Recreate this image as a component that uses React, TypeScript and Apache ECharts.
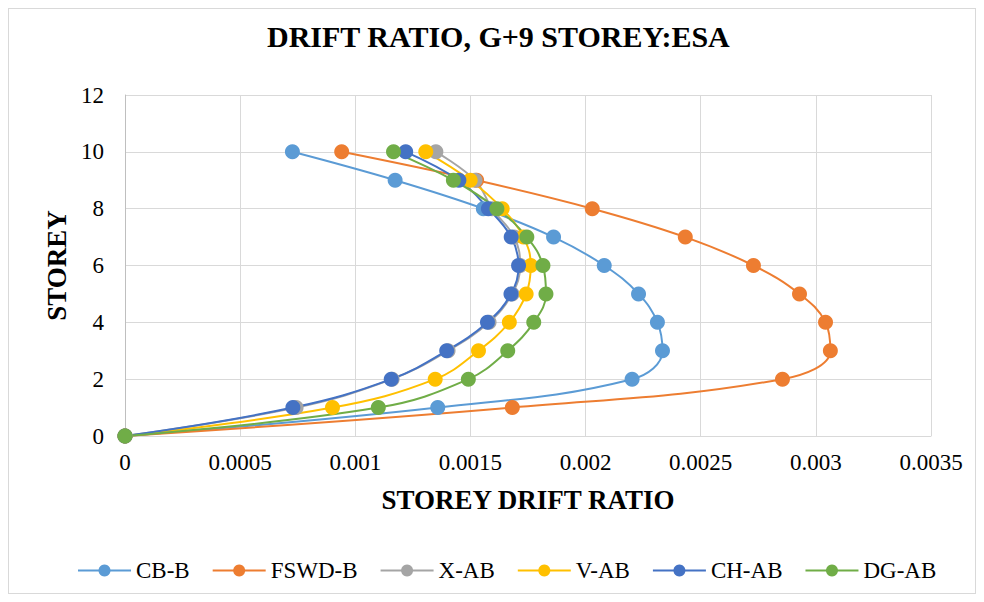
import React, { useEffect, useRef } from "react";
import * as echarts from "echarts";

const storeys = [0, 1, 2, 3, 4, 5, 6, 7, 8, 9, 10];
const seriesNames = ["CB-B", "FSWD-B", "X-AB", "V-AB", "CH-AB", "DG-AB"];
const cbB = [0, 0.001358, 0.002202, 0.002334, 0.002312, 0.00223, 0.002081, 0.001861, 0.001556, 0.001173, 0.000727];
const fswdB = [0, 0.001682, 0.002855, 0.003063, 0.003042, 0.002929, 0.002729, 0.002433, 0.002029, 0.001527, 0.000941];
const xAB = [0, 0.000743, 0.00116, 0.001403, 0.001581, 0.001681, 0.001716, 0.00169, 0.001594, 0.00152, 0.00135];
const vAB = [0, 0.000901, 0.001347, 0.001535, 0.001669, 0.001742, 0.001762, 0.00173, 0.001638, 0.001499, 0.001306];
const chAB = [0, 0.000729, 0.001156, 0.001397, 0.001574, 0.001676, 0.001709, 0.001677, 0.001578, 0.00145, 0.001219];
const dgAB = [0, 0.0011, 0.001491, 0.001662, 0.001775, 0.001828, 0.001815, 0.001745, 0.001615, 0.001426, 0.001166];
const colors = ["#5B9BD5", "#ED7D31", "#A5A5A5", "#FFC000", "#4472C4", "#70AD47"];

const FONT = "Liberation Serif";

export default function App() {
  const ref = useRef<HTMLDivElement>(null);
  useEffect(() => {
    if (!ref.current) return;
    const chart = echarts.init(ref.current, undefined, { renderer: "svg" });
    const allData = [cbB, fswdB, xAB, vAB, chAB, dgAB];
    chart.setOption({
      animation: false,
      backgroundColor: "#ffffff",
      textStyle: { fontFamily: FONT },
      title: {
        text: "DRIFT RATIO, G+9 STOREY:ESA",
        left: 253,
        top: 7,
        textStyle: { fontFamily: FONT, fontSize: 30, fontWeight: "bold", color: "#000" },
      },
      grid: { left: 116, top: 86, right: 44, bottom: 157, containLabel: false },
      legend: {
        left: 63,
        top: 545,
        itemWidth: 53,
        itemHeight: 15,
        itemGap: 22,
        textStyle: { fontFamily: FONT, fontSize: 23, color: "#000" },
        data: seriesNames,
      },
      xAxis: {
        type: "value",
        min: 0,
        max: 0.0035,
        interval: 0.0005,
        name: "STOREY DRIFT RATIO",
        nameLocation: "middle",
        nameGap: 50,
        nameTextStyle: { fontFamily: FONT, fontSize: 27, fontWeight: "bold", color: "#000" },
        axisLine: { show: true, lineStyle: { color: "#D9D9D9" } },
        axisTick: { show: false },
        axisLabel: {
          margin: 15,
          fontFamily: FONT,
          fontSize: 23,
          color: "#000",
          formatter: (v: number) => String(+v.toFixed(4)),
        },
        splitLine: { show: true, lineStyle: { color: "#D9D9D9", width: 1 } },
      },
      yAxis: {
        type: "value",
        min: 0,
        max: 12,
        interval: 2,
        name: "STOREY",
        nameLocation: "middle",
        nameGap: 52,
        nameTextStyle: { fontFamily: FONT, fontSize: 27, fontWeight: "bold", color: "#000" },
        axisLine: { show: true, lineStyle: { color: "#BFBFBF" } },
        axisTick: { show: false },
        axisLabel: { margin: 21, fontFamily: FONT, fontSize: 23, color: "#000" },
        splitLine: { show: true, lineStyle: { color: "#D9D9D9", width: 1 } },
      },
      series: seriesNames.map((name, i) => ({
        name,
        type: "line",
        smooth: 0.4,
        symbol: "circle",
        symbolSize: 15,
        showSymbol: true,
        lineStyle: { color: colors[i], width: 2 },
        itemStyle: { color: colors[i] },
        data: storeys.map((s, k) => [allData[i][k], s]),
      })),
    });
    return () => chart.dispose();
  }, []);
  return (
    <div
      ref={ref}
      style={{ width: 968, height: 586, border: "1px solid #D9D9D9", boxSizing: "border-box" }}
    />
  );
}
